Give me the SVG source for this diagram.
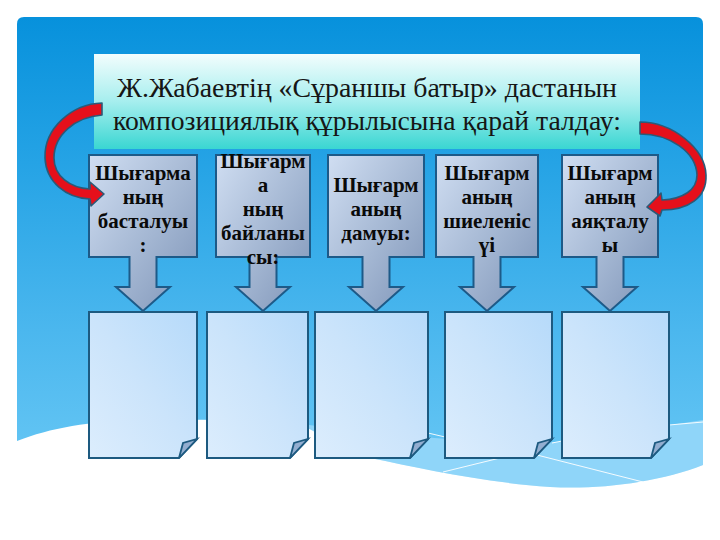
<svg xmlns="http://www.w3.org/2000/svg" width="720" height="540" viewBox="0 0 720 540">
<defs>
<linearGradient id="panelG" x1="0" y1="0" x2="0" y2="1">
<stop offset="0" stop-color="#0791dc"/>
<stop offset="0.3" stop-color="#25a3e5"/>
<stop offset="0.65" stop-color="#4bb7ee"/>
<stop offset="1" stop-color="#6ccaf6"/>
</linearGradient>
<linearGradient id="titleG" x1="0" y1="0" x2="0" y2="1">
<stop offset="0" stop-color="#f2fdfd"/>
<stop offset="0.5" stop-color="#a6eeee"/>
<stop offset="1" stop-color="#3ad6d2"/>
</linearGradient>
<linearGradient id="boxG" x1="0" y1="0" x2="1" y2="1">
<stop offset="0" stop-color="#d0def2"/>
<stop offset="0.55" stop-color="#a3b6d2"/>
<stop offset="1" stop-color="#7d93b6"/>
</linearGradient>
<linearGradient id="paperG" x1="1" y1="0" x2="0" y2="1">
<stop offset="0" stop-color="#b6dafa"/>
<stop offset="0.5" stop-color="#cbe4fb"/>
<stop offset="1" stop-color="#dcedfd"/>
</linearGradient>
<style>
.box{fill:url(#boxG);stroke:#1d5a88;stroke-width:2;stroke-linejoin:miter}
.paper{fill:url(#paperG);stroke:#1d5a80;stroke-width:2;stroke-linejoin:miter}
.flap{fill:#93aed0;stroke:#1d5a80;stroke-width:1.8;stroke-linejoin:miter}
.bt{font-family:"Liberation Serif","DejaVu Serif",serif;font-weight:bold;font-size:21px;fill:#0a0a0a;text-anchor:middle}
.tt{font-family:"Liberation Serif","DejaVu Serif",serif;font-size:28px;fill:#161616;text-anchor:middle}
.red{fill:#e5101b;stroke:#2b5a78;stroke-width:1.6;stroke-linejoin:round}
.wl{fill:none;stroke:#ffffff;stroke-width:1;opacity:0.9}
</style>
</defs>

<g id="background">
<rect x="0" y="0" width="720" height="540" fill="#ffffff"/>
<path d="M17,24 Q17,17 24,17 L696,17 Q703,17 703,24 L703,500 L17,500 Z" fill="url(#panelG)"/>
<path d="M300,424 C400,436 520,448 580,440 C630,432 670,425 703,420 L703,465 C660,482 600,490 550,487 C480,482 420,468 370,458 C340,450 320,440 300,424 Z" fill="#8fd5f9"/>
<path class="wl" d="M428,433 L445,437"/>
<path class="wl" d="M443,472 L500,458"/>
<path class="wl" d="M537,455 L643,482"/>
<path class="wl" d="M669,425 L703,422"/>
<path class="wl" d="M552,443 L562,441"/>
<path d="M17,441 C50,428 90,421 140,420 C200,419 260,420 300,424 C330,440 350,452 370,458 C420,468 480,482 550,487 C600,490 660,482 703,465 L703,540 L17,540 Z" fill="#ffffff"/>
</g>

<g id="title">
<rect x="94" y="54" width="546" height="95" fill="url(#titleG)"/>
<text class="tt" x="367" y="97" textLength="500" lengthAdjust="spacingAndGlyphs">Ж.Жабаевтің «Сұраншы батыр» дастанын</text>
<text class="tt" x="367" y="130" textLength="508" lengthAdjust="spacingAndGlyphs">композициялық құрылысына қарай талдау:</text>
</g>

<g id="papers">
<g id="paper1"><path class="paper" d="M89,312 L197,312 L197,439 L179,458 L89,458 Z"/><path class="flap" d="M179,458 L183,443 L197,439 Z"/></g>
<g id="paper2"><path class="paper" d="M207,312 L308,312 L308,439 L290,458 L207,458 Z"/><path class="flap" d="M290,458 L294,443 L308,439 Z"/></g>
<g id="paper3"><path class="paper" d="M315,312 L428,312 L428,439 L410,458 L315,458 Z"/><path class="flap" d="M410,458 L414,443 L428,439 Z"/></g>
<g id="paper4"><path class="paper" d="M445,312 L552,312 L552,439 L534,458 L445,458 Z"/><path class="flap" d="M534,458 L538,443 L552,439 Z"/></g>
<g id="paper5"><path class="paper" d="M562,312 L669,312 L669,439 L651,458 L562,458 Z"/><path class="flap" d="M651,458 L655,443 L669,439 Z"/></g>
</g>

<g id="box1">
<path class="box" d="M89,155 L197,155 L197,257 L156.5,257 L156.5,287 L170,287 L143,311 L116,287 L129.5,287 L129.5,257 L89,257 Z"/>
<text class="bt" x="143" y="180">Шығарма</text>
<text class="bt" x="143" y="204">ның</text>
<text class="bt" x="143" y="228">басталуы</text>
<text class="bt" x="143" y="252">:</text>
</g>
<g id="box2">
<path class="box" d="M216,155 L310,155 L310,257 L276.5,257 L276.5,287 L290,287 L263,311 L236,287 L249.5,287 L249.5,257 L216,257 Z"/>
<text class="bt" x="263" y="168">Шығарм</text>
<text class="bt" x="263" y="192">а</text>
<text class="bt" x="263" y="216">ның</text>
<text class="bt" x="263" y="240">байланы</text>
<text class="bt" x="263" y="264">сы:</text>
</g>
<g id="box3">
<path class="box" d="M328,155 L424,155 L424,257 L389.5,257 L389.5,287 L403,287 L376,311 L349,287 L362.5,287 L362.5,257 L328,257 Z"/>
<text class="bt" x="376" y="192">Шығарм</text>
<text class="bt" x="376" y="216">аның</text>
<text class="bt" x="376" y="240">дамуы:</text>
</g>
<g id="box4">
<path class="box" d="M436,155 L538,155 L538,257 L500.5,257 L500.5,287 L514,287 L487,311 L460,287 L473.5,287 L473.5,257 L436,257 Z"/>
<text class="bt" x="487" y="180">Шығарм</text>
<text class="bt" x="487" y="204">аның</text>
<text class="bt" x="487" y="228">шиеленіс</text>
<text class="bt" x="487" y="252">үі</text>
</g>
<g id="box5">
<path class="box" d="M562,155 L658,155 L658,257 L623.5,257 L623.5,287 L637,287 L610,311 L583,287 L596.5,287 L596.5,257 L562,257 Z"/>
<text class="bt" x="610" y="180">Шығарм</text>
<text class="bt" x="610" y="204">аның</text>
<text class="bt" x="610" y="228">аяқталу</text>
<text class="bt" x="610" y="252">ы</text>
</g>

<g id="connectors">
<path class="red" d="M102,103 C72,104 44,128 45,158 C46,182 66,198 90,199 L91,206 L104,194 L90,182 L90,189 C70,188 54,176 54,158 C54,135 75,117 102,115 Z"/>
<path class="red" d="M640,122 C672,122 705,148 706,175 C707,198 688,210 662,210 L660,216 L647,207 L661,193 L662,200 C683,199 697,190 697,175 C696,152 670,134 640,134 Z"/>
</g>
</svg>
